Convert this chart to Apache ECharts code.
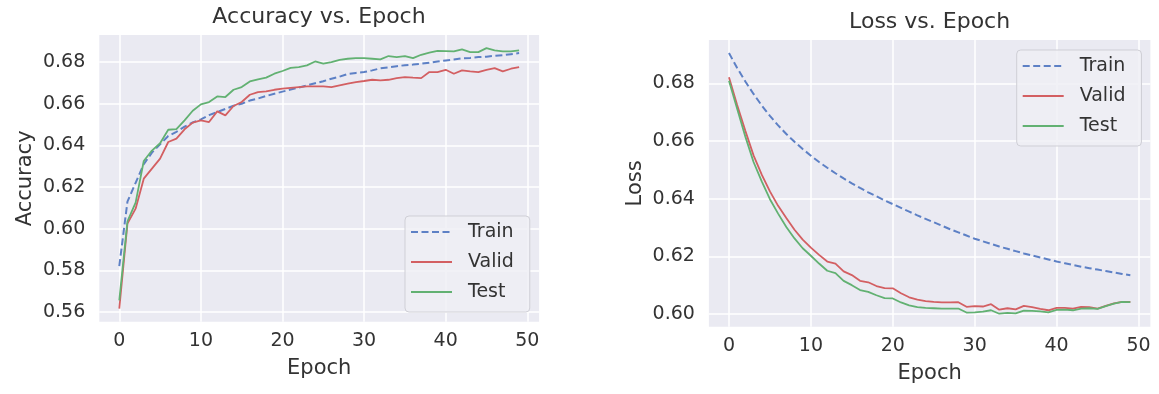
<!DOCTYPE html>
<html lang="en">
<head>
  <meta charset="UTF-8">
  <title>Accuracy / Loss vs. Epoch</title>
  <style>
    html, body { margin: 0; padding: 0; background: #fff; }
    #main { width: 1159px; height: 394px; }
  </style>
</head>
<body>
  <div id="main"></div>

  <script src="https://cdn.jsdelivr.net/npm/echarts@6/dist/echarts.min.js"></script>
  <script type="text/javascript">

    // epochs 0..49
    var epochs = [0, 1, 2, 3, 4, 5, 6, 7, 8, 9,
                  10, 11, 12, 13, 14, 15, 16, 17, 18, 19,
                  20, 21, 22, 23, 24, 25, 26, 27, 28, 29,
                  30, 31, 32, 33, 34, 35, 36, 37, 38, 39,
                  40, 41, 42, 43, 44, 45, 46, 47, 48, 49];

    // accuracy curves
    var accTrain = [0.582, 0.613, 0.622, 0.631, 0.6365, 0.6405, 0.6445, 0.6465, 0.649, 0.651,
                    0.6525, 0.6545, 0.656, 0.6575, 0.659, 0.660, 0.6615, 0.6625, 0.6637, 0.6648,
                    0.6658, 0.6668, 0.6678, 0.6688, 0.6698, 0.6708, 0.672, 0.673, 0.6743, 0.6748,
                    0.6752, 0.676, 0.677, 0.6775, 0.678, 0.6785, 0.6788, 0.6792, 0.6797, 0.6803,
                    0.6808, 0.6812, 0.6818, 0.682, 0.6824, 0.6826, 0.683, 0.6833, 0.6838, 0.6843];
    var accValid = [0.5616, 0.6024, 0.6096, 0.624, 0.6288, 0.6336, 0.6416, 0.6432, 0.6477, 0.6509,
                    0.652, 0.6512, 0.6563, 0.6544, 0.6589, 0.6608, 0.6643, 0.6656, 0.6659, 0.6667,
                    0.6672, 0.6676, 0.668, 0.6683, 0.6683, 0.6683, 0.668, 0.6688, 0.6696, 0.6704,
                    0.6709, 0.6715, 0.6712, 0.6715, 0.6723, 0.6728, 0.6725, 0.6723, 0.6752, 0.6752,
                    0.6763, 0.6744, 0.676, 0.6755, 0.6752, 0.6763, 0.6771, 0.6755, 0.6768, 0.6776];
    var accTest  = [0.5655, 0.6035, 0.6125, 0.6325, 0.6375, 0.641, 0.6475, 0.6478, 0.652, 0.6566,
                    0.6597, 0.6608, 0.6635, 0.6632, 0.6667, 0.668, 0.6707, 0.6717, 0.6725, 0.6744,
                    0.6757, 0.6772, 0.6776, 0.6784, 0.6803, 0.6792, 0.680, 0.6811, 0.6816, 0.6819,
                    0.6819, 0.6816, 0.6813, 0.6829, 0.6824, 0.6829, 0.6819, 0.6835, 0.6845, 0.6854,
                    0.6853, 0.6851, 0.6861, 0.6848, 0.6848, 0.6867, 0.6856, 0.6851, 0.6851, 0.6856];

    // loss curves
    var lossTrain = [0.6905, 0.6853, 0.6806, 0.6763, 0.6723, 0.6687, 0.6654, 0.6624, 0.6597, 0.6572,
                     0.6549, 0.6527, 0.6507, 0.6488, 0.647, 0.6453, 0.6437, 0.6422, 0.6408, 0.6394,
                     0.6381, 0.6368, 0.6355, 0.6342, 0.633, 0.6318, 0.6306, 0.6294, 0.6283, 0.6272,
                     0.6261, 0.6252, 0.6243, 0.6234, 0.6226, 0.6218, 0.621, 0.6203, 0.6196, 0.6189,
                     0.6182, 0.6176, 0.617, 0.6164, 0.6159, 0.6154, 0.6149, 0.6144, 0.6139, 0.6134];
    var lossValid = [0.6821, 0.6725, 0.6635, 0.655, 0.6483, 0.6425, 0.6375, 0.6333, 0.6292, 0.6258,
                     0.623, 0.6205, 0.6182, 0.6175, 0.6148, 0.6135, 0.6115, 0.611, 0.6097, 0.609,
                     0.6089, 0.6072, 0.6058, 0.605, 0.6045, 0.6042, 0.604, 0.604, 0.6041, 0.6025,
                     0.6027, 0.6026, 0.6034, 0.6015, 0.602, 0.6016, 0.6028, 0.6024, 0.6018, 0.6013,
                     0.6021, 0.6021, 0.6019, 0.6025, 0.6024, 0.6019, 0.6028, 0.6037, 0.6042, 0.6042];
    var lossTest  = [0.6809, 0.6712, 0.6615, 0.6527, 0.646, 0.6398, 0.6348, 0.6302, 0.6262, 0.6228,
                     0.6202, 0.6175, 0.615, 0.6142, 0.6115, 0.610, 0.6083, 0.6077, 0.6065, 0.6055,
                     0.6054, 0.604, 0.603, 0.6024, 0.6021, 0.602, 0.6019, 0.6019, 0.6019, 0.6005,
                     0.6006, 0.6008, 0.6013, 0.6001, 0.6004, 0.6002, 0.6012, 0.6011, 0.6009, 0.6006,
                     0.6014, 0.6015, 0.6013, 0.6019, 0.602, 0.6018, 0.6027, 0.6036, 0.6042, 0.6041];

    // tick labels
    var epochTicks = [0, 10, 20, 30, 40, 50];
    var accTicks = [0.56, 0.58, 0.60, 0.62, 0.64, 0.66, 0.68];
    var lossTicks = [0.60, 0.62, 0.64, 0.66, 0.68];
    var legendNames = ['Train', 'Valid', 'Test'];

    var FONT = 'DejaVu Sans';
    var TXT = '#333333';
    var BLUE = '#5d80c5', RED = '#d35f62', GREEN = '#62b172';

    function pairs(ys) {
      return epochs.map(function (e, i) { return [e, ys[i]]; });
    }

    function xAxisOf(gi) {
      return {
        type: 'value', gridIndex: gi, min: -2.45, max: 51.45,
        name: 'Epoch', nameLocation: 'middle', nameGap: 36,
        nameTextStyle: { fontFamily: FONT, fontSize: 21, color: TXT },
        axisLine: { show: false },
        axisTick: { show: false, customValues: epochTicks },
        axisLabel: { customValues: epochTicks, margin: 10, fontFamily: FONT, fontSize: 19, color: TXT },
        splitLine: { show: true, lineStyle: { color: '#ffffff', width: 1.5 } }
      };
    }

    function yAxisOf(gi, name, lo, hi, ticks) {
      return {
        type: 'value', gridIndex: gi, min: lo, max: hi,
        name: name, nameLocation: 'middle', nameGap: 63, nameRotate: 90,
        nameTextStyle: { fontFamily: FONT, fontSize: 21, color: TXT },
        axisLine: { show: false },
        axisTick: { show: false, customValues: ticks },
        axisLabel: {
          customValues: ticks, margin: 14, fontFamily: FONT, fontSize: 19, color: TXT,
          formatter: function (v) { return v.toFixed(2); }
        },
        splitLine: { show: true, lineStyle: { color: '#ffffff', width: 1.5 } }
      };
    }

    function lineSeries(name, gi, ys, color, dashed) {
      return {
        name: name, type: 'line', xAxisIndex: gi, yAxisIndex: gi,
        data: pairs(ys), symbol: 'none', silent: true,
        lineStyle: { color: color, width: dashed ? 2 : 1.8, type: dashed ? [7, 3.5] : 'solid' },
        itemStyle: { color: color }
      };
    }

    // legend box like matplotlib's: line sample, no marker
    function legendAt(left, top) {
      return {
        orient: 'vertical', left: left, top: top, data: legendNames,
        itemWidth: 41, itemHeight: 14, itemGap: 10, selectedMode: false,
        padding: [6, 16, 10, 5],
        backgroundColor: 'rgba(238,238,245,0.85)', borderColor: '#cfcfd6', borderWidth: 1, borderRadius: 4,
        itemStyle: { color: 'transparent', borderColor: 'transparent', borderWidth: 0, opacity: 0 },
        textStyle: { fontFamily: FONT, fontSize: 19, color: TXT, lineHeight: 20, padding: [0, 0, 0, 11] }
      };
    }

    var chart = echarts.init(document.getElementById('main'), null, { renderer: 'canvas' });

    var option = {
      backgroundColor: '#ffffff',
      animation: false,
      title: [
        { text: 'Accuracy vs. Epoch', left: 319, top: 6, textAlign: 'center', padding: 0,
          textStyle: { fontFamily: FONT, fontSize: 22, fontWeight: 'normal', color: TXT } },
        { text: 'Loss vs. Epoch', left: 929.6, top: 11, textAlign: 'center', padding: 0,
          textStyle: { fontFamily: FONT, fontSize: 22, fontWeight: 'normal', color: TXT } }
      ],
      grid: [
        { left: 99.3, top: 35, width: 439.8, height: 286.7, show: true, backgroundColor: '#eaeaf2', borderWidth: 0 },
        { left: 708.9, top: 40, width: 441.5, height: 286.7, show: true, backgroundColor: '#eaeaf2', borderWidth: 0 }
      ],
      xAxis: [xAxisOf(0), xAxisOf(1)],
      yAxis: [
        yAxisOf(0, 'Accuracy', 0.5553, 0.693, accTicks),
        yAxisOf(1, 'Loss', 0.5956, 0.695, lossTicks)
      ],
      legend: [legendAt(405, 216), legendAt(1016.7, 50)],
      series: [
        lineSeries('Train', 0, accTrain, BLUE, true),
        lineSeries('Valid', 0, accValid, RED, false),
        lineSeries('Test', 0, accTest, GREEN, false),
        lineSeries('Train', 1, lossTrain, BLUE, true),
        lineSeries('Valid', 1, lossValid, RED, false),
        lineSeries('Test', 1, lossTest, GREEN, false)
      ]
    };

    chart.setOption(option);
  </script>
</body>
</html>
